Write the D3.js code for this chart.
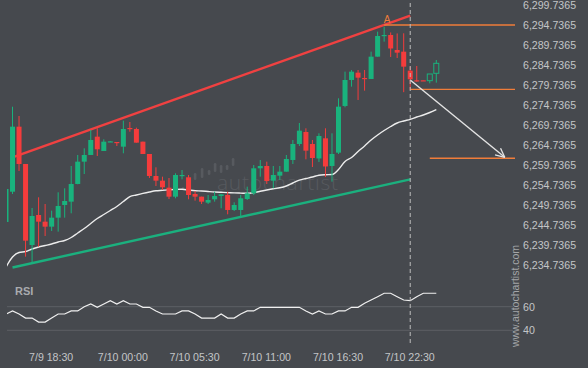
<!DOCTYPE html>
<html>
<head>
<meta charset="utf-8">
<script src="https://cdn.jsdelivr.net/npm/d3@7/dist/d3.min.js"></script>
<style>
html, body { margin: 0; padding: 0; background: #46494e; }
svg { display: block; }
</style>
</head>
<body>
<svg id="chart" width="588" height="368"></svg>
<script>
// 30 minute candles, index 0 .. 66 (index 62 = 7/10 22:30)
let opens = [6245.49, 6253.06, 6269.32, 6259.99, 6239.74, 6247.24, 6245.57, 6244.32, 6246.57, 6249.74,
    6250.57, 6254.99, 6260.57, 6262.24, 6266.82, 6263.24, 6265.57, 6265.49, 6264.32, 6268.99,
    6268.74, 6265.57, 6262.49, 6256.99, 6255.82, 6254.07, 6251.82, 6257.12, 6256.66, 6252.49,
    6251.82, 6250.32, 6251.16, 6251.99, 6252.24, 6248.49, 6248.49, 6251.24, 6252.66, 6258.91,
    6259.49, 6255.82, 6257.07, 6258.07, 6260.99, 6264.99, 6267.99, 6264.99, 6261.37, 6266.41,
    6259.49, 6262.82, 6274.49, 6280.99, 6282.82, 6281.49, 6281.24, 6286.82, 6292.12, 6292.24,
    6288.49, 6288.07, 6283.32, 6280.91, 6280.91, 6280.82, 6282.66];
let highs = [6253.74, 6274.31, 6271.99, 6259.99, 6248.99, 6251.66, 6249.99, 6248.32, 6252.91, 6253.91,
    6259.49, 6262.24, 6263.91, 6268.49, 6268.91, 6266.16, 6265.70, 6265.49, 6270.82, 6270.49,
    6269.07, 6265.57, 6262.49, 6259.16, 6256.82, 6256.49, 6257.66, 6258.49, 6257.24, 6253.24,
    6251.82, 6252.24, 6253.07, 6252.41, 6253.07, 6250.41, 6252.24, 6254.32, 6259.74, 6260.99,
    6260.57, 6259.49, 6259.49, 6262.24, 6265.99, 6270.24, 6268.91, 6265.99, 6267.66, 6268.91,
    6267.66, 6276.41, 6283.07, 6283.49, 6283.49, 6283.49, 6288.07, 6293.07, 6294.32, 6292.87,
    6292.62, 6292.66, 6284.32, 6284.49, 6280.91, 6282.49, 6285.99];
let lows = [6245.49, 6252.49, 6258.24, 6236.82, 6235.42, 6239.32, 6241.99, 6243.24, 6243.07, 6246.57,
    6247.66, 6254.92, 6257.49, 6262.24, 6261.99, 6263.24, 6265.50, 6264.49, 6262.66, 6268.06,
    6265.32, 6262.49, 6256.49, 6254.49, 6253.49, 6251.24, 6251.41, 6256.16, 6251.16, 6250.82,
    6249.99, 6249.99, 6250.57, 6248.91, 6247.41, 6248.24, 6246.99, 6250.99, 6252.24, 6256.82,
    6254.99, 6253.91, 6255.99, 6258.07, 6259.99, 6264.49, 6261.16, 6259.24, 6260.49, 6256.74,
    6255.57, 6262.49, 6274.16, 6279.32, 6275.99, 6278.32, 6281.24, 6286.82, 6290.57, 6286.74,
    6286.49, 6277.94, 6278.49, 6280.57, 6280.82, 6280.16, 6280.32];
let closes = [6253.74, 6269.32, 6259.99, 6240.82, 6246.99, 6245.57, 6244.32, 6246.57, 6249.49, 6250.74,
    6254.99, 6260.57, 6262.24, 6265.99, 6263.66, 6265.57, 6265.65, 6265.24, 6268.74, 6268.74,
    6265.32, 6262.49, 6256.99, 6255.82, 6254.16, 6251.82, 6257.24, 6257.24, 6252.24, 6251.82,
    6250.57, 6250.99, 6251.99, 6252.41, 6248.49, 6249.74, 6251.41, 6252.66, 6258.91, 6259.49,
    6255.74, 6257.24, 6258.07, 6261.24, 6264.99, 6268.32, 6263.32, 6261.49, 6266.99, 6259.37,
    6262.49, 6274.32, 6280.99, 6283.07, 6281.57, 6281.24, 6286.82, 6291.99, 6292.24, 6288.87,
    6287.82, 6284.32, 6281.16, 6280.82, 6280.82, 6282.49, 6285.16];

// moving average
let maValues = [6234.24, 6236.74, 6237.86, 6238.11, 6238.74, 6239.24, 6239.61, 6239.99, 6240.49, 6240.86,
    6241.61, 6242.74, 6243.86, 6245.11, 6246.36, 6247.36, 6248.36, 6249.36, 6250.61, 6251.81,
    6252.24, 6252.64, 6252.99, 6253.29, 6253.41, 6253.54, 6253.64, 6253.66, 6253.49, 6253.31,
    6253.24, 6253.11, 6252.99, 6252.91, 6252.84, 6252.76, 6252.71, 6252.66, 6252.84, 6253.16,
    6253.49, 6253.79, 6254.04, 6254.49, 6255.24, 6255.94, 6256.36, 6256.74, 6257.19, 6257.31,
    6257.36, 6258.61, 6260.61, 6261.61, 6263.11, 6264.49, 6265.99, 6267.24, 6268.36, 6269.36,
    6270.24, 6270.74, 6271.16, 6271.74, 6272.24, 6272.86, 6273.61];

// RSI panel
let rsiValues = [53.8, 56.4, 53.8, 50.4, 50.4, 47.0, 47.0, 50.4, 53.8, 53.8,
    56.4, 56.4, 60.0, 62.3, 59.5, 62.3, 65.1, 62.3, 65.1, 62.3,
    62.3, 59.5, 59.5, 56.4, 53.8, 53.8, 53.8, 56.4, 56.4, 53.8,
    50.4, 50.4, 50.4, 53.8, 50.4, 50.4, 53.8, 56.4, 56.4, 59.5,
    59.5, 59.5, 59.5, 59.5, 59.5, 59.5, 56.4, 53.8, 56.4, 53.8,
    53.8, 56.4, 56.4, 59.5, 59.5, 62.9, 65.7, 68.5, 71.4, 71.4,
    68.5, 65.7, 65.1, 68.5, 71.4, 71.4, 71.4];
let rsiTicks = [40, 60];

let priceTicks = [6234.7365, 6239.7365, 6244.7365, 6249.7365, 6254.7365, 6259.7365, 6264.7365,
    6269.7365, 6274.7365, 6279.7365, 6284.7365, 6289.7365, 6294.7365, 6299.7365];
let timeTickIdx = [7, 18, 29, 40, 51, 62];
let timeTickLabels = ['7/9 18:30', '7/10 00:00', '7/10 05:30', '7/10 11:00', '7/10 16:30', '7/10 22:30'];

// pattern: channel lines, levels, forecast arrow
let signalIdx = 62;
let resistance = [[1, 6261.66], [62, 6297.11]];
let support = [[1, 6234.12], [62, 6256.16]];
let levelFrom = [58, 62, 65];
let levelPrice = [6294.7365, 6278.66, 6261.41];
let forecast = [[62, 6280.99], [76.5, 6261.66]];
let pointA = [58, 6294.7365];

let green = '#19b37d', red = '#f43c3c', orange = '#f07d3a';
let font = '"Liberation Sans", Arial, sans-serif';

let svg = d3.select('#chart');
let W = 588, H = 368;
let plotL = 7, plotR = 515, axisX = 520;

svg.append('rect').attr('width', W).attr('height', H).attr('fill', '#46494e');

// scales
let x = d3.scaleLinear().domain([0, 66]).range([6, 436.3]);
let y = d3.scaleLinear().domain([6234.7365, 6299.7365]).range([265, 5]);
let ry = d3.scaleLinear().domain([40, 60]).range([330.3, 306.7]);

let defs = svg.append('defs');
defs.append('clipPath').attr('id', 'mainClip')
    .append('rect').attr('x', plotL).attr('y', 0).attr('width', plotR - plotL + 1).attr('height', 284);
defs.append('clipPath').attr('id', 'rsiClip')
    .append('rect').attr('x', plotL).attr('y', 284).attr('width', plotR - plotL).attr('height', 70);

// watermark in the middle
let wm = svg.append('g').attr('fill', '#575a5f');
let logoBars = [[183, 3], [195, 7], [202, 10], [209, 5], [215, 9], [221, 8], [227, 5], [233, 8]];
let logoTop = [187, 173, 168, 170, 163, 165, 165, 158];
wm.selectAll('rect')
    .data(logoBars)
    .enter()
        .append('rect')
        .attr('x', d => d[0] - 1.2)
        .attr('y', (d, i) => logoTop[i])
        .attr('width', 2.6)
        .attr('height', d => d[1])
        .attr('rx', 1.2);
wm.append('text')
    .attr('x', 217).attr('y', 190)
    .attr('textLength', 121)
    .style('font-family', '"Open Sans", "DejaVu Sans", sans-serif')
    .style('font-size', '21px')
    .style('font-weight', '300')
    .text('autochartist');

let main = svg.append('g').attr('clip-path', 'url(#mainClip)');

// moving average
main.append('path')
    .datum(maValues)
    .attr('fill', 'none')
    .attr('stroke', '#ececec')
    .attr('stroke-width', 1.4)
    .attr('d', d3.line().x((d, i) => x(i)).y(d => y(d)).curve(d3.curveMonotoneX));

// channel lines
main.append('line')
    .attr('x1', x(resistance[0][0])).attr('y1', y(resistance[0][1]))
    .attr('x2', x(resistance[1][0])).attr('y2', y(resistance[1][1]))
    .attr('stroke', '#f04141').attr('stroke-width', 2.4);
main.append('line')
    .attr('x1', x(support[0][0])).attr('y1', y(support[0][1]))
    .attr('x2', x(support[1][0])).attr('y2', y(support[1][1]))
    .attr('stroke', '#1bb07e').attr('stroke-width', 2.4);

// candles
let candles = d3.range(opens.length).map(i => ({
    i: i, o: opens[i], h: highs[i], l: lows[i], c: closes[i], up: closes[i] >= opens[i]
}));
let cw = 5;
let cg = main.append('g');
cg.selectAll('line')
    .data(candles)
    .enter()
        .append('line')
        .attr('x1', d => x(d.i)).attr('x2', d => x(d.i))
        .attr('y1', d => y(d.h)).attr('y2', d => y(d.l))
        .attr('stroke', d => d.up ? green : red)
        .attr('stroke-width', 1);
cg.selectAll('rect')
    .data(candles)
    .enter()
        .append('rect')
        .attr('x', d => x(d.i) - cw / 2)
        .attr('y', d => y(Math.max(d.o, d.c)))
        .attr('width', cw)
        .attr('height', d => Math.max(1.2, Math.abs(y(d.o) - y(d.c))))
        .attr('fill', d => (d.i > signalIdx && d.up) ? '#46494e' : (d.up ? green : red))
        .attr('stroke', d => (d.i > signalIdx && d.up) ? green : 'none')
        .attr('stroke-width', 1);

// levels
main.selectAll('.level')
    .data(levelPrice)
    .enter()
        .append('line')
        .attr('class', 'level')
        .attr('x1', (d, i) => x(levelFrom[i])).attr('x2', plotR)
        .attr('y1', d => y(d)).attr('y2', d => y(d))
        .attr('stroke', orange)
        .attr('stroke-width', (d, i) => i == 2 ? 1.6 : 1.3);

// forecast arrow
let ax1 = x(forecast[0][0]), ay1 = y(forecast[0][1]);
let ax2 = x(forecast[1][0]), ay2 = y(forecast[1][1]);
let ang = Math.atan2(ay2 - ay1, ax2 - ax1);
main.append('line')
    .attr('x1', ax1).attr('y1', ay1).attr('x2', ax2).attr('y2', ay2)
    .attr('stroke', '#e4e4e4').attr('stroke-width', 1.4);
[-0.45, 0.45].forEach(function(a){
    main.append('line')
        .attr('x1', ax2).attr('y1', ay2)
        .attr('x2', ax2 - 10 * Math.cos(ang + a))
        .attr('y2', ay2 - 10 * Math.sin(ang + a))
        .attr('stroke', '#e4e4e4').attr('stroke-width', 1.3);
});

// point A
svg.append('text')
    .attr('x', x(pointA[0]) + 3).attr('y', y(pointA[1]) - 2)
    .style('text-anchor', 'middle')
    .style('font-family', font)
    .style('font-size', '10px')
    .style('fill', orange)
    .text('A');

// RSI panel
svg.append('text')
    .attr('x', 15).attr('y', 295)
    .style('font-family', font)
    .style('font-size', '11px')
    .style('font-weight', 'bold')
    .style('fill', '#a9abae')
    .text('RSI');
svg.selectAll('.rsiGrid')
    .data(rsiTicks)
    .enter()
        .append('line')
        .attr('class', 'rsiGrid')
        .attr('x1', plotL).attr('x2', plotR - 2)
        .attr('y1', d => ry(d)).attr('y2', d => ry(d))
        .attr('stroke', '#5d6065').attr('stroke-width', 1);
svg.append('g').attr('clip-path', 'url(#rsiClip)')
    .append('path')
    .datum(rsiValues)
    .attr('fill', 'none')
    .attr('stroke', '#f0f0f0')
    .attr('stroke-width', 1.2)
    .attr('d', d3.line().x((d, i) => x(i)).y(d => ry(d)));

// signal time marker
svg.append('line')
    .attr('x1', x(signalIdx)).attr('x2', x(signalIdx))
    .attr('y1', 3).attr('y2', 346)
    .attr('stroke', '#bdbdbd')
    .attr('stroke-width', 1)
    .attr('stroke-dasharray', '4,3');

// axes
let priceAxis = svg.append('g')
    .attr('transform', 'translate(' + axisX + ',0)')
    .call(d3.axisRight(y).tickValues(priceTicks).tickSize(0).tickPadding(3)
        .tickFormat(d3.format(',.4f')));
let rsiAxis = svg.append('g')
    .attr('transform', 'translate(' + axisX + ',0)')
    .call(d3.axisRight(ry).tickValues(rsiTicks).tickSize(0).tickPadding(3));
let timeAxis = svg.append('g')
    .attr('transform', 'translate(-1,350)')
    .call(d3.axisBottom(x).tickValues(timeTickIdx).tickSize(0).tickPadding(3)
        .tickFormat((d, i) => timeTickLabels[i]));
[priceAxis, rsiAxis, timeAxis].forEach(function(g){
    g.select('.domain').remove();
    g.selectAll('text')
        .style('font-family', font)
        .style('font-size', '10.6px')
        .style('fill', '#c3c5c7');
});

// vertical site name
svg.append('text')
    .attr('transform', 'translate(519,296) rotate(-90)')
    .style('text-anchor', 'middle')
    .style('font-family', font)
    .style('font-size', '10.5px')
    .style('fill', '#a3a5a8')
    .text('www.autochartist.com');
</script>
</body>
</html>
